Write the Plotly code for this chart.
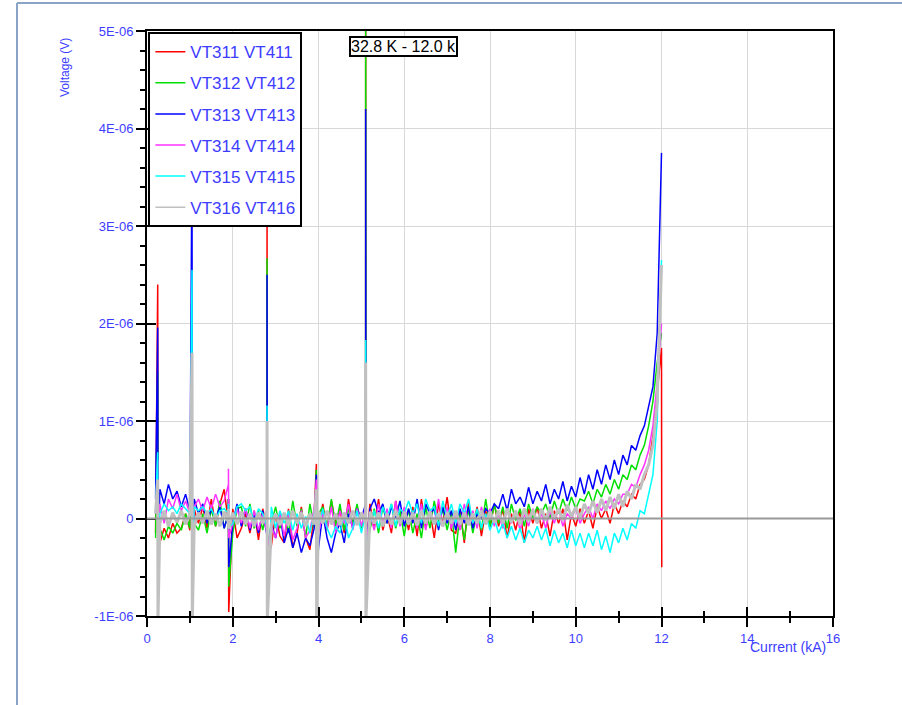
import numpy as np
import plotly.graph_objects as go

# Current grid (kA) for the noisy baseline part of every trace
current_grid = np.round(np.arange(0.2, 11.95, 0.1), 2)

# Baseline voltages, in microvolts (one value per 0.1 kA, 0.2 .. 11.9 kA)
vt311 = [-0.15, -0.25, -0.1, -0.2, -0.05, -0.15, -0.1, 0.05, -0.12, 0.1,
         -0.05, 0.12, -0.1, 0.2, -0.08, 0.15, 0.3, -0.05, 0.1, -0.2,
         -0.1, 0.05, -0.15, 0.08, -0.22, 0.1, -0.12, -0.28, 0.05, -0.18,
         -0.25, 0.1, -0.3, -0.15, 0.12, -0.2, -0.32, 0.05, -0.1, 0.15,
         -0.12, 0.18, -0.05, 0.1, -0.15, 0.2, -0.08, 0.12, -0.1, 0.05,
         0.15, -0.1, 0.2, -0.12, 0.05, -0.15, 0.18, -0.05, 0.1, -0.12,
         0.12, -0.18, 0.2, -0.1, 0.08, -0.2, 0.15, -0.05, 0.22, -0.12,
         -0.15, 0.1, -0.25, 0.18, -0.08, 0.12, -0.18, 0.08, -0.1, 0.15,
         -0.08, 0.1, -0.2, 0.05, -0.12, 0.08, -0.25, 0.1, -0.05, 0.12,
         -0.1, 0.05, -0.18, 0.08, -0.05, 0.1, -0.22, 0.05, -0.08, 0.1,
         -0.05, 0.08, -0.1, 0.12, 0.0, 0.1, -0.05, 0.15, 0.05, 0.18,
         0.12, 0.25, 0.2, 0.35, 0.4, 0.55, 0.85, 1.3]
vt312 = [-0.2, -0.1, -0.22, -0.08, -0.15, -0.05, -0.12, 0.05, -0.1, -0.05,
         -0.12, 0.05, -0.15, 0.1, -0.08, 0.18, -0.1, 0.05, -0.15, 0.1,
         0.12, -0.08, 0.15, -0.1, 0.08, -0.12, 0.1, -0.05, 0.12, -0.1,
         0.05, -0.15, 0.18, -0.08, 0.1, -0.2, 0.15, -0.1, 0.05, 0.12,
         -0.1, 0.2, -0.08, 0.15, -0.12, 0.1, -0.05, 0.15, -0.1, 0.08,
         -0.12, 0.1, -0.15, 0.12, -0.05, 0.15, -0.1, 0.08, -0.18, 0.1,
         -0.15, 0.05, -0.2, 0.12, -0.1, 0.18, -0.05, 0.1, -0.12, 0.08,
         -0.35, 0.05, -0.22, 0.1, -0.15, 0.08, -0.12, 0.2, -0.08, 0.15,
         -0.05, 0.12, -0.1, 0.15, -0.02, 0.1, -0.08, 0.15, 0.0, 0.12,
         0.05, 0.15, 0.0, 0.18, 0.05, 0.2, 0.08, 0.22, 0.1, 0.2,
         0.18, 0.28, 0.15, 0.3, 0.22, 0.35, 0.25, 0.4, 0.3, 0.45,
         0.4, 0.55, 0.5, 0.65, 0.75, 0.95, 1.2, 1.6]
vt313 = [0.2, 0.3, 0.15, 0.35, 0.2, 0.28, 0.12, 0.25, 0.08, 0.2,
         0.05, 0.15, -0.05, 0.1, 0.0, 0.12, -0.1, 0.05, -0.05, 0.15,
         -0.08, 0.1, -0.12, 0.05, -0.15, 0.08, -0.18, -0.05, -0.2, 0.05,
         -0.25, -0.1, -0.3, -0.15, -0.35, -0.2, -0.28, -0.1, -0.3, 0.05,
         -0.2, -0.35, -0.15, -0.05, -0.25, 0.05, -0.1, 0.1, 0.0, 0.15,
         0.1, 0.2, 0.05, 0.15, -0.05, 0.12, 0.0, 0.18, -0.08, 0.1,
         -0.05, 0.2, -0.1, 0.15, 0.05, 0.1, -0.12, 0.12, -0.05, 0.08,
         -0.12, 0.1, -0.05, 0.12, -0.1, 0.05, 0.0, 0.1, 0.05, 0.15,
         0.1, 0.25, 0.08, 0.3, 0.15, 0.22, 0.12, 0.32, 0.15, 0.28,
         0.18, 0.35, 0.15, 0.3, 0.2, 0.38, 0.18, 0.33, 0.22, 0.42,
         0.25, 0.45, 0.3, 0.5, 0.35, 0.55, 0.4, 0.6, 0.45, 0.65,
         0.55, 0.75, 0.7, 0.85, 0.95, 1.15, 1.35, 1.9]
vt314 = [0.05, 0.15, -0.05, 0.2, 0.1, 0.25, 0.08, 0.18, 0.05, 0.12,
         0.2, 0.08, 0.22, 0.1, 0.25, 0.12, 0.18, 0.35, -0.05, 0.1,
         -0.05, 0.1, -0.1, 0.08, -0.12, 0.05, -0.15, -0.08, -0.2, 0.05,
         -0.18, 0.05, -0.22, -0.1, 0.08, -0.2, -0.12, 0.1, -0.15, 0.05,
         -0.1, 0.12, -0.15, 0.08, -0.05, 0.15, -0.12, 0.1, -0.08, 0.12,
         0.05, -0.12, 0.15, -0.05, 0.1, -0.1, 0.18, -0.08, 0.12, -0.05,
         0.08, -0.1, 0.15, -0.12, 0.1, -0.05, 0.2, -0.08, 0.12, -0.1,
         0.05, -0.12, 0.15, -0.05, 0.08, -0.1, 0.12, -0.05, 0.1, -0.08,
         0.05, -0.1, 0.1, -0.05, 0.08, -0.12, 0.05, -0.08, 0.1, -0.05,
         0.05, -0.1, 0.08, -0.05, 0.1, -0.08, 0.05, 0.0, 0.1, -0.05,
         0.05, 0.12, 0.0, 0.15, 0.08, 0.18, 0.1, 0.2, 0.15, 0.25,
         0.25, 0.35, 0.32, 0.45, 0.55, 0.7, 0.95, 1.4]
vt315 = [0.1, 0.05, 0.15, 0.08, 0.12, 0.05, 0.15, 0.1, 0.05, 0.12,
         0.08, 0.12, 0.05, 0.1, 0.0, 0.08, 0.1, 0.05, -0.05, 0.12,
         0.15, 0.08, 0.12, -0.05, 0.1, 0.05, -0.08, 0.12, -0.1, 0.08,
         -0.05, 0.08, -0.12, 0.05, -0.1, 0.02, -0.15, 0.05, -0.08, 0.1,
         -0.1, -0.2, -0.08, -0.15, 0.05, -0.2, -0.1, 0.08, -0.15, 0.05,
         -0.05, 0.08, -0.1, 0.12, 0.0, 0.15, -0.08, 0.1, 0.05, 0.18,
         0.05, 0.15, -0.05, 0.2, 0.08, 0.12, -0.08, 0.18, 0.0, 0.15,
         -0.05, 0.15, 0.05, 0.2, -0.05, 0.1, -0.1, 0.05, -0.12, 0.0,
         -0.15, -0.05, -0.2, -0.08, -0.22, -0.1, -0.25, -0.12, -0.2, -0.08,
         -0.22, -0.1, -0.28, -0.12, -0.25, -0.15, -0.3, -0.12, -0.28, -0.15,
         -0.3, -0.15, -0.28, -0.12, -0.32, -0.18, -0.35, -0.15, -0.25, -0.1,
         -0.22, -0.05, -0.1, 0.08, 0.05, 0.25, 0.45, 1.0]
vt316 = [0.05, -0.05, 0.08, -0.08, 0.06, -0.04, 0.08, -0.06, 0.05, -0.08,
         0.06, -0.05, 0.08, -0.06, 0.05, -0.08, 0.07, -0.04, 0.06, -0.06,
         0.07, -0.06, 0.05, -0.08, 0.06, -0.05, 0.08, -0.06, 0.05, -0.07,
         0.06, -0.07, 0.08, -0.05, 0.06, -0.08, 0.05, -0.06, 0.07, -0.05,
         0.08, -0.06, 0.05, -0.07, 0.06, -0.05, 0.08, -0.07, 0.06, -0.05,
         0.07, -0.05, 0.06, -0.08, 0.05, -0.06, 0.08, -0.05, 0.07, -0.06,
         0.06, -0.07, 0.08, -0.05, 0.07, -0.06, 0.05, -0.08, 0.06, -0.05,
         0.08, -0.06, 0.06, -0.07, 0.05, -0.05, 0.08, -0.06, 0.07, -0.04,
         0.08, -0.05, 0.1, -0.04, 0.08, -0.06, 0.1, -0.03, 0.09, -0.05,
         0.1, -0.02, 0.12, 0.0, 0.1, -0.02, 0.14, 0.02, 0.12, 0.0,
         0.15, 0.05, 0.18, 0.06, 0.2, 0.08, 0.22, 0.1, 0.25, 0.12,
         0.28, 0.2, 0.35, 0.3, 0.45, 0.55, 0.75, 1.2]

# Spikes (kA) and their peak / trough voltages (microvolts); None = no trough
spike_x = [0.25, 1.05, 1.9, 2.8, 3.95, 5.1, 12.0]
spike_hi = {
    "VT311 VT411": [2.4, 1.0, 0.2, 3.3, 0.56, 5.3, 1.75],
    "VT312 VT412": [1.5, 2.0, 0.2, 2.67, 0.5, 5.2, 1.9],
    "VT313 VT413": [1.96, 3.8, 0.2, 2.5, 0.45, 4.2, 3.75],
    "VT314 VT414": [0.6, 1.5, 0.51, 1.0, 0.4, 1.2, 2.0],
    "VT315 VT415": [0.68, 2.55, 0.15, 1.16, 0.2, 1.83, 2.65],
    "VT316 VT416": [0.4, 1.7, 0.1, 1.0, 0.3, 1.6, 2.6],
}
spike_lo = {
    "VT311 VT411": [-0.25, -0.3, -0.96, -0.4, -0.3, -0.3, -0.5],
    "VT312 VT412": [-0.25, -0.3, -0.7, -0.3, -0.3, -0.3, None],
    "VT313 VT413": [-0.4, -0.4, -0.5, -1.05, -0.6, -0.3, None],
    "VT314 VT414": [-0.2, -0.3, -0.2, -0.3, -0.3, -0.3, None],
    "VT315 VT415": [-1.05, -0.5, -0.1, -0.95, -0.4, -0.4, None],
    "VT316 VT416": [-1.05, -1.05, -0.1, -1.05, -1.05, -1.05, None],
}

series_names = ["VT311 VT411", "VT312 VT412", "VT313 VT413",
                "VT314 VT414", "VT315 VT415", "VT316 VT416"]
series_values = [vt311, vt312, vt313, vt314, vt315, vt316]
colors = ["#ff0000", "#00e000", "#0000ff", "#ff33ff", "#00ffff", "#c0c0c0"]
widths = [1.5, 1.5, 1.5, 1.5, 1.5, 3.0]

y_tick_vals = [-1e-6, 0, 1e-6, 2e-6, 3e-6, 4e-6, 5e-6]
y_tick_text = ["-1E-06", "0", "1E-06", "2E-06", "3E-06", "4E-06", "5E-06"]
x_tick_vals = [0, 2, 4, 6, 8, 10, 12, 14, 16]

BLUE = "#3d3dff"
FONT = "Liberation Sans, Arial, sans-serif"

fig = go.Figure()
for name, vals, col, w in zip(series_names, series_values, colors, widths):
    pts = list(zip(current_grid.tolist(), vals))
    for sx, hi, lo in zip(spike_x, spike_hi[name], spike_lo[name]):
        pts.append((sx, hi))
        if lo is not None:
            pts.append((sx + 0.006, lo))
    pts.sort(key=lambda p: p[0])
    xs = [p[0] for p in pts]
    ys = [p[1] * 1e-6 for p in pts]
    fig.add_trace(go.Scatter(x=xs, y=ys, mode="lines", name=name,
                             legendgroup=name, showlegend=False,
                             line=dict(color=col, width=w)))
    # legend entry with a thin sample line
    fig.add_trace(go.Scatter(x=[None], y=[None], mode="lines", name=name,
                             legendgroup=name, showlegend=True,
                             line=dict(color=col, width=1.5)))

# overlay axes to make ticks cross the axis lines
fig.add_trace(go.Scatter(x=[None], y=[None], xaxis="x2", yaxis="y2",
                         showlegend=False, hoverinfo="skip"))

L, R, T, B = 147, 69, 31, 89
W, H = 902, 705
pw, ph = W - L - R, H - T - B

def px_x(p):
    return (p - L) / pw

def px_y(p):
    return (H - B - p) / ph

fig.update_layout(
    width=W, height=H,
    margin=dict(l=L, r=R, t=T, b=B, pad=0),
    paper_bgcolor="white", plot_bgcolor="white",
    font=dict(family=FONT, size=12, color=BLUE),
    showlegend=True,
    legend=dict(x=0.002, y=0.998, xanchor="left", yanchor="top",
                bgcolor="white", bordercolor="black", borderwidth=2,
                font=dict(size=17, color=BLUE, family=FONT),
                tracegroupgap=6, traceorder="grouped", itemwidth=30),
    xaxis=dict(range=[0, 16], tickvals=x_tick_vals, showgrid=True,
               gridcolor="#d8d8d8", gridwidth=1, zeroline=False,
               showline=True, linecolor="black", linewidth=2, mirror=True,
               ticks="outside", ticklen=9, tickcolor="black", tickwidth=1.5,
               minor=dict(dtick=1, ticks="outside", ticklen=5,
                          tickcolor="black", tickwidth=1.5, showgrid=False),
               tickfont=dict(size=13, color=BLUE)),
    xaxis2=dict(range=[0, 16], overlaying="x", tickvals=x_tick_vals,
                showgrid=False, zeroline=False, showline=False,
                ticks="inside", ticklen=9, tickcolor="black", tickwidth=1.5,
                showticklabels=False, side="bottom",
                minor=dict(dtick=1, ticks="inside", ticklen=5,
                           tickcolor="black", tickwidth=1.5, showgrid=False)),
    yaxis=dict(range=[-1e-6, 5e-6], tickvals=y_tick_vals, ticktext=y_tick_text,
               showgrid=True, gridcolor="#d8d8d8", gridwidth=1, zeroline=False,
               showline=True, linecolor="black", linewidth=2, mirror=True,
               ticks="outside", ticklen=9, tickcolor="black", tickwidth=1.5,
               minor=dict(dtick=0.2e-6, tick0=0, ticks="outside", ticklen=5,
                          tickcolor="black", tickwidth=1.5, showgrid=False),
               tickfont=dict(size=13, color=BLUE)),
    yaxis2=dict(range=[-1e-6, 5e-6], overlaying="y", tickvals=y_tick_vals,
                showgrid=False, zeroline=False, showline=False,
                ticks="inside", ticklen=9, tickcolor="black", tickwidth=1.5,
                showticklabels=False, side="left"),
)

# zero reference line drawn over the data
fig.add_shape(type="line", xref="paper", yref="y", x0=0, x1=1, y0=0, y1=0,
              line=dict(color="#999999", width=2), layer="above")

# outer window frame
frame_col = "#8aa4c8"
fig.add_shape(type="line", xref="paper", yref="paper",
              x0=px_x(17), x1=px_x(17), y0=px_y(H + 5), y1=px_y(3),
              line=dict(color=frame_col, width=2))
fig.add_shape(type="line", xref="paper", yref="paper",
              x0=px_x(17), x1=px_x(W + 5), y0=px_y(3), y1=px_y(3),
              line=dict(color=frame_col, width=2))

fig.add_annotation(xref="paper", yref="paper", x=px_x(403), y=px_y(46),
                   xanchor="center", yanchor="middle",
                   text="32.8 K - 12.0 k", showarrow=False,
                   font=dict(size=16, color="black", family=FONT),
                   bgcolor="white", bordercolor="black", borderwidth=2,
                   borderpad=0)
fig.add_annotation(xref="paper", yref="paper", x=px_x(788), y=px_y(647),
                   xanchor="center", yanchor="middle",
                   text="Current (kA)", showarrow=False,
                   font=dict(size=14, color=BLUE, family=FONT))
fig.add_annotation(xref="paper", yref="paper", x=px_x(65), y=px_y(68),
                   xanchor="center", yanchor="middle",
                   text="Voltage (V)", showarrow=False, textangle=-90,
                   font=dict(size=12, color=BLUE, family=FONT))

fig.write_html("out.html", config={"displayModeBar": False},
               post_script="document.body.style.margin='0';document.body.style.padding='0';")
